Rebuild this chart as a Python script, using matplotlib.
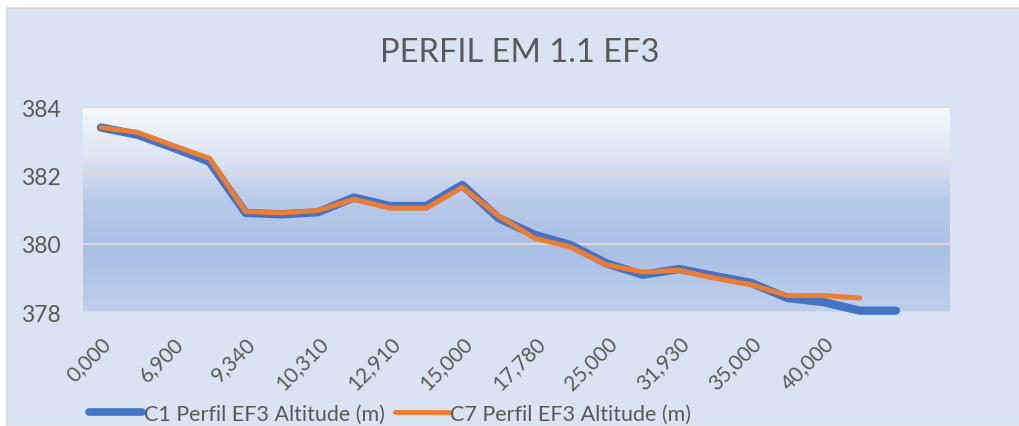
import matplotlib.pyplot as plt
import numpy as np
from matplotlib.colors import LinearSegmentedColormap
from matplotlib.patches import Rectangle

# Data (24 category slots, label shown on every other one)
tick_labels = ['0,000', '6,900', '9,340', '10,310', '12,910', '15,000',
               '17,780', '25,000', '31,930', '35,000', '40,000']
c1_altitude = [383.40, 383.19, 382.81, 382.40, 380.90, 380.86, 380.92, 381.35,
               381.10, 381.10, 381.72, 380.75, 380.26, 379.96, 379.42, 379.09,
               379.26, 379.05, 378.85, 378.41, 378.29, 378.04, 378.04]
c7_altitude = [383.40, 383.26, 382.87, 382.50, 380.94, 380.90, 380.97, 381.30,
               381.04, 381.04, 381.65, 380.82, 380.16, 379.90, 379.38, 379.17,
               379.22, 378.99, 378.80, 378.48, 378.48, 378.41]

fig = plt.figure(figsize=(10.2, 4.27), dpi=100)
fig.patch.set_facecolor('white')
plt.rcParams['font.family'] = ['Lato', 'DejaVu Sans']

# chart area background
bg = Rectangle((7 / 1020, 0), 1.0, 1 - 9 / 427, transform=fig.transFigure,
               facecolor='#DAE3F3', edgecolor='#D9D9D9', linewidth=1.2, zorder=-5)
fig.add_artist(bg)

ax = fig.add_axes([83 / 1020, 1 - 313 / 427, 867 / 1020, 205 / 427])
ax.set_zorder(5)
ax.set_facecolor('none')

# gradient fill of the plot area
grad = LinearSegmentedColormap.from_list('g', [(0.0, '#BFD0EB'), (0.3, '#A9BFE5'),
                                               (0.55, '#B9CAE9'), (0.75, '#DCE4F3'),
                                               (1.0, '#F6F8FC')])
ax.imshow(np.linspace(0, 1, 256).reshape(-1, 1), cmap=grad, origin='lower', aspect='auto',
          extent=(0, 1, 0, 1), transform=ax.transAxes, zorder=0)

for y in [378, 380, 382, 384]:
    ax.axhline(y, color='#D9D9D9', linewidth=1.5, zorder=1)

x1 = np.arange(len(c1_altitude))
x7 = np.arange(len(c7_altitude))
ax.plot(x1, c1_altitude, color='#4472C4', linewidth=6.0, solid_capstyle='round',
        solid_joinstyle='round', label='C1 Perfil EF3 Altitude (m)', zorder=3, clip_on=False)
ax.plot(x7, c7_altitude, color='#ED7D31', linewidth=3.6, solid_capstyle='round',
        solid_joinstyle='round', label='C7 Perfil EF3 Altitude (m)', zorder=4, clip_on=False)

ax.set_xlim(-0.5, 23.5)
ax.set_ylim(378, 384)
ax.set_yticks([378, 380, 382, 384])
ax.set_xticks(np.arange(0, 2 * len(tick_labels), 2))
ax.set_xticklabels(tick_labels, rotation=45, ha='right', rotation_mode='anchor')
ax.tick_params(axis='both', length=0, labelsize=16.5, colors='#595959')
ax.tick_params(axis='x', labelsize=15, pad=15)
ax.tick_params(axis='y', pad=16)
for s in ax.spines.values():
    s.set_visible(False)

fig.text(520 / 1020, 1 - 53 / 427, 'PERFIL EM 1.1 EF3', ha='center', va='center',
         fontsize=23.5, color='#595959')

leg = fig.legend(loc='center left', bbox_to_anchor=(80 / 1020, 1 - 415 / 427), ncol=2,
                 frameon=False, fontsize=15.5, handlelength=2.5, handletextpad=0.05,
                 columnspacing=0.5, labelcolor='#595959', borderaxespad=0)
leg.legend_handles[0].set_linewidth(5.5)
leg.legend_handles[0].set_solid_capstyle('round')
leg.legend_handles[1].set_linewidth(3.5)
leg.legend_handles[1].set_solid_capstyle('round')

fig.savefig('out.png', dpi=100, facecolor=fig.get_facecolor())
